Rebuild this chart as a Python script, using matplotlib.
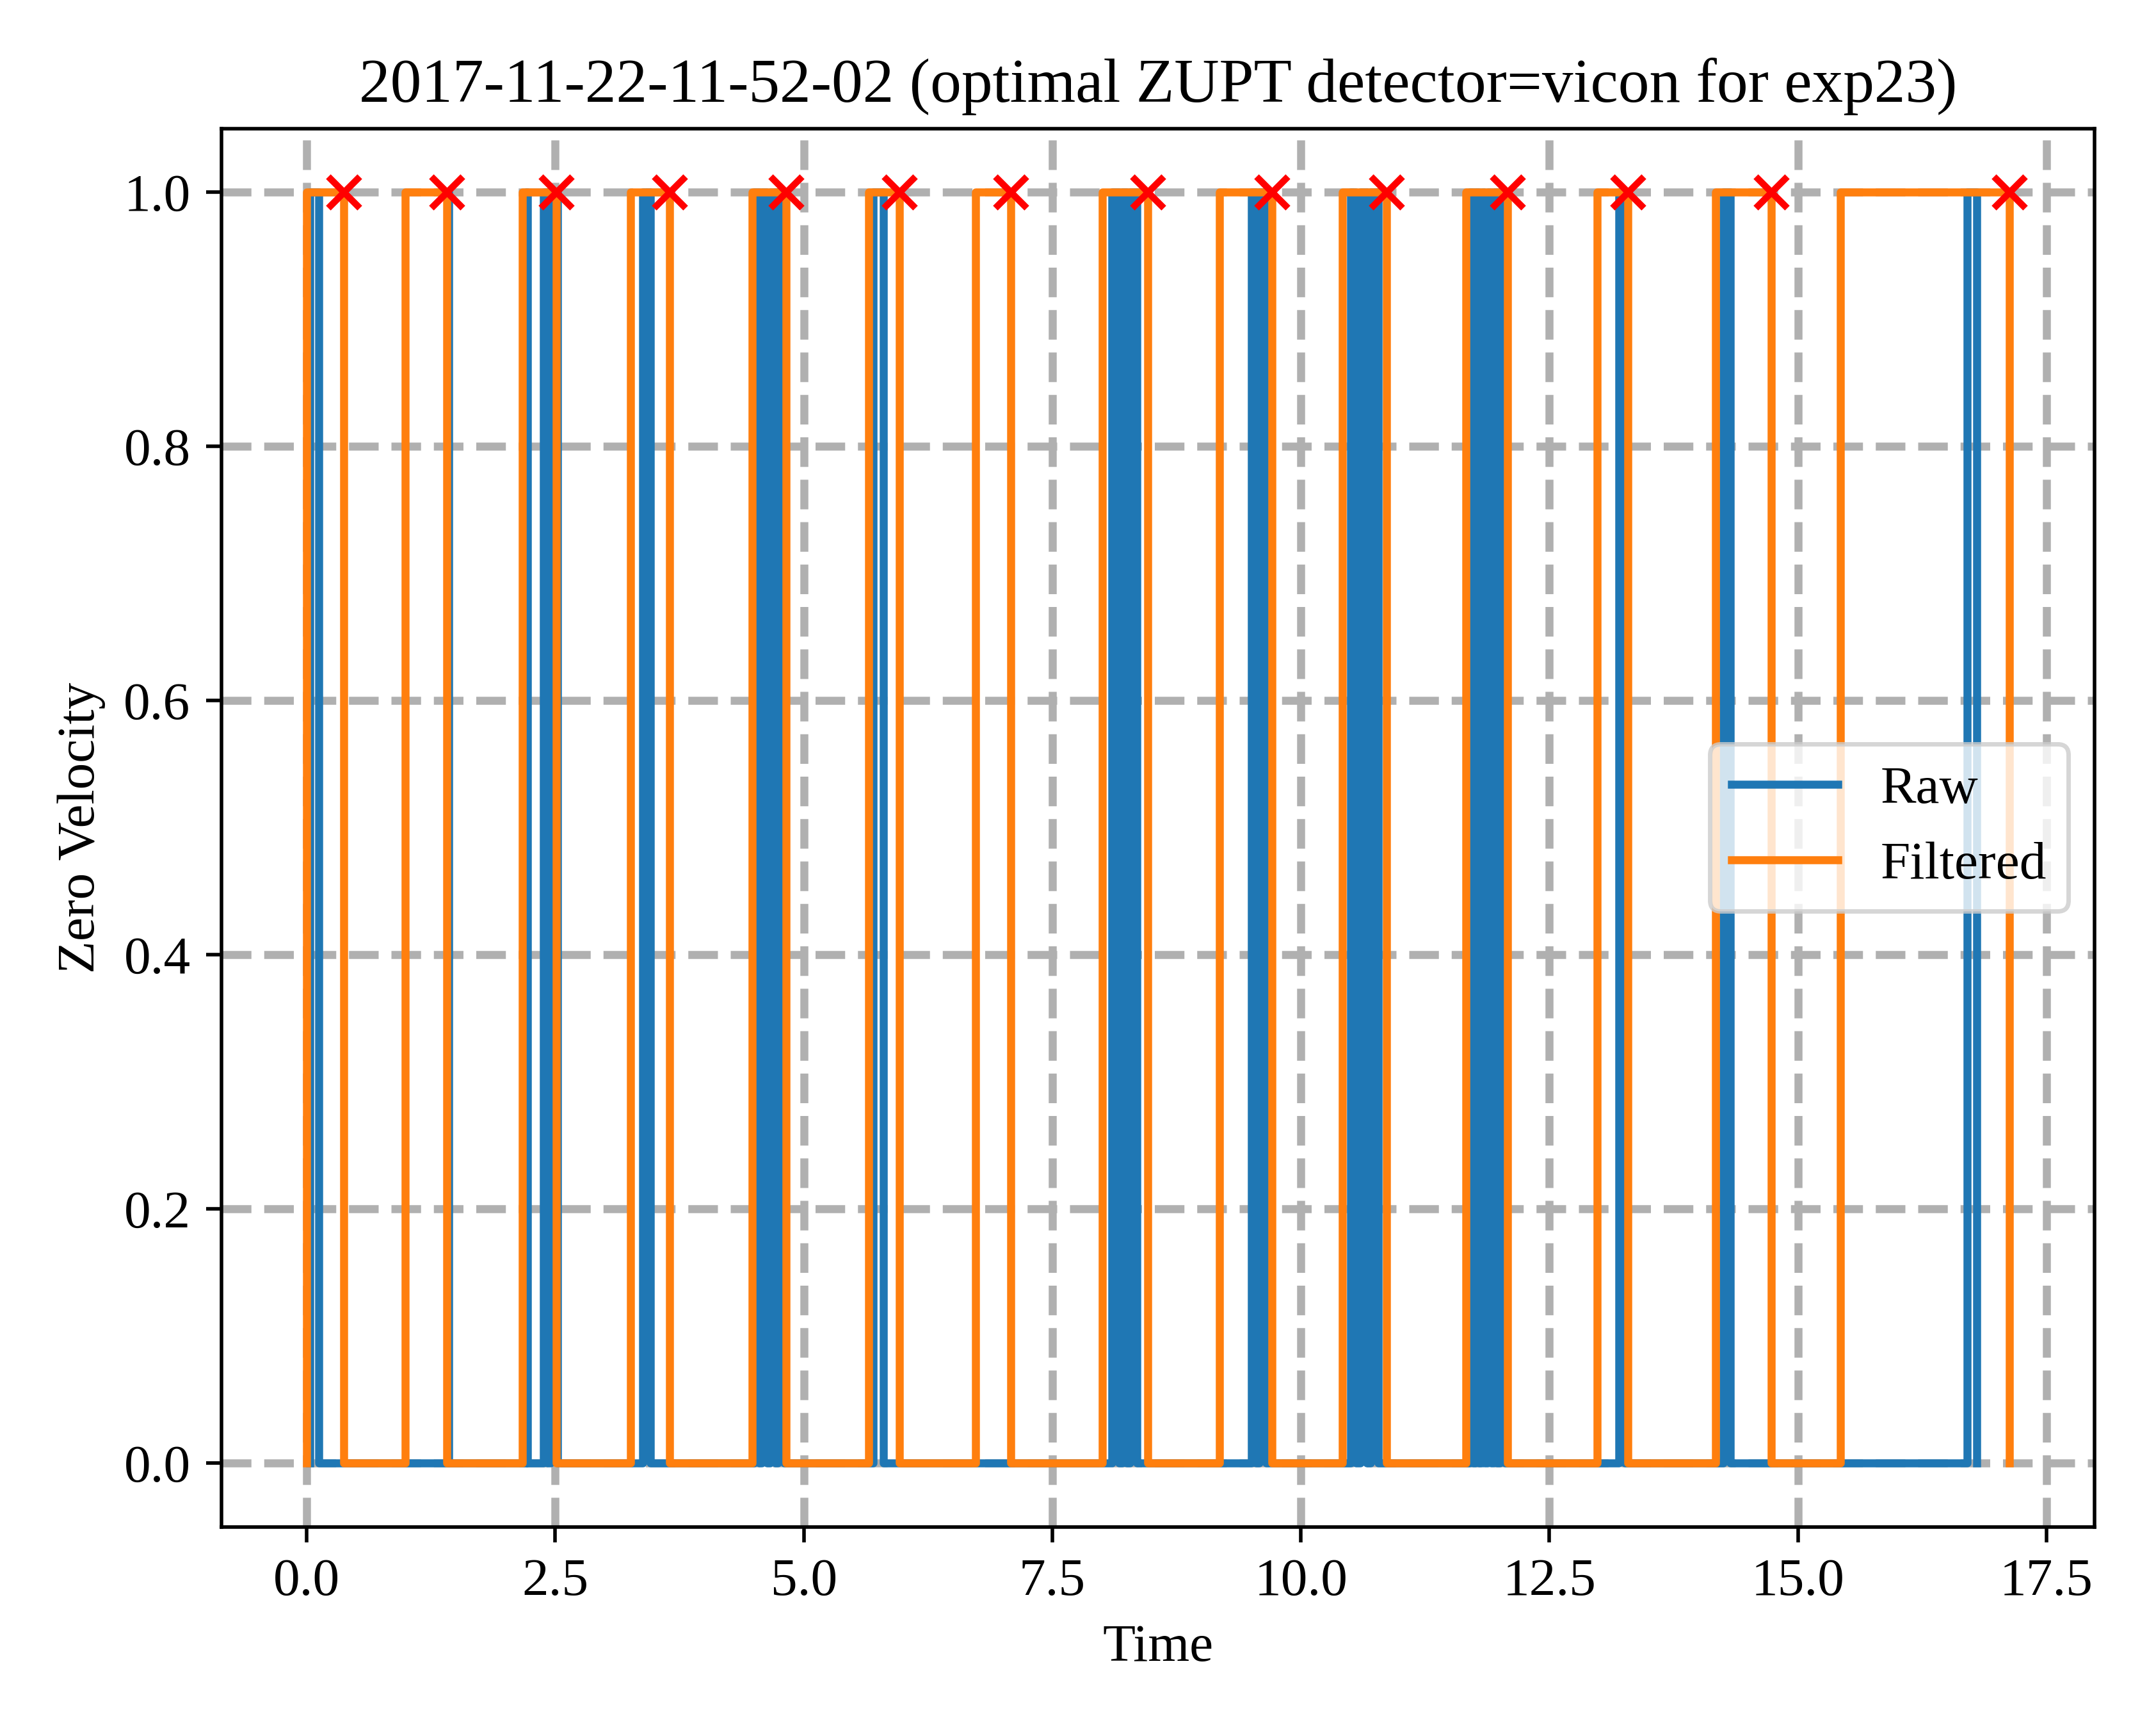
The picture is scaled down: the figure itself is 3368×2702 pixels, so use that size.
import matplotlib.pyplot as plt

plt.rcParams['font.family'] = ['Liberation Serif', 'DejaVu Serif']
plt.rcParams['font.size'] = 12

# ---- data: intervals where zero velocity == 1 ----
filt_start = [0.00, 0.99, 2.17, 3.26, 4.48, 5.65, 6.73, 8.00, 9.18, 10.42, 11.66, 12.98, 14.17, 15.43]
filt_end   = [0.37, 1.41, 2.51, 3.65, 4.82, 5.96, 7.08, 8.46, 9.71, 10.86, 12.08, 13.29, 14.73, 17.13]

raw_start = [0.03, 1.42, 2.21, 2.38, 2.45, 3.38, 4.50, 4.58, 4.66, 4.74, 5.70, 8.10, 8.20, 8.28,
             9.50, 9.58, 10.50, 10.60, 10.70, 11.70, 11.76, 11.82, 11.88, 11.94, 12.00, 13.20, 14.25, 16.70]
raw_end   = [0.12, 1.43, 2.22, 2.42, 2.52, 3.46, 4.55, 4.63, 4.71, 4.80, 5.80, 8.17, 8.25, 8.35,
             9.55, 9.65, 10.55, 10.66, 10.78, 11.73, 11.79, 11.85, 11.91, 11.97, 12.05, 13.26, 14.32, 16.80]


def to_step(starts, ends):
    t, v = [], []
    for s, e in zip(starts, ends):
        t += [s, s, e, e]
        v += [0, 1, 1, 0]
    return t, v


rt, rv = to_step(raw_start, raw_end)
ft, fv = to_step(filt_start, filt_end)

fig, ax = plt.subplots(figsize=(6.736, 5.404), dpi=500)
ax.plot(rt, rv, color='#1f77b4', label='Raw', linewidth=1.8)
ax.plot(ft, fv, color='#ff7f0e', label='Filtered', linewidth=1.8)
ax.scatter(filt_end, [1] * len(filt_end), marker='x', color='red', s=50, zorder=5)

ax.grid(True, linestyle='--', color='#b0b0b0', linewidth=1.8)
ax.set_xlabel('Time')
ax.set_ylabel('Zero Velocity')
ax.set_title('2017-11-22-11-52-02 (optimal ZUPT detector=vicon for exp23)', fontsize=14)
ax.legend(loc='center right')

plt.tight_layout()
plt.savefig('out.png')
